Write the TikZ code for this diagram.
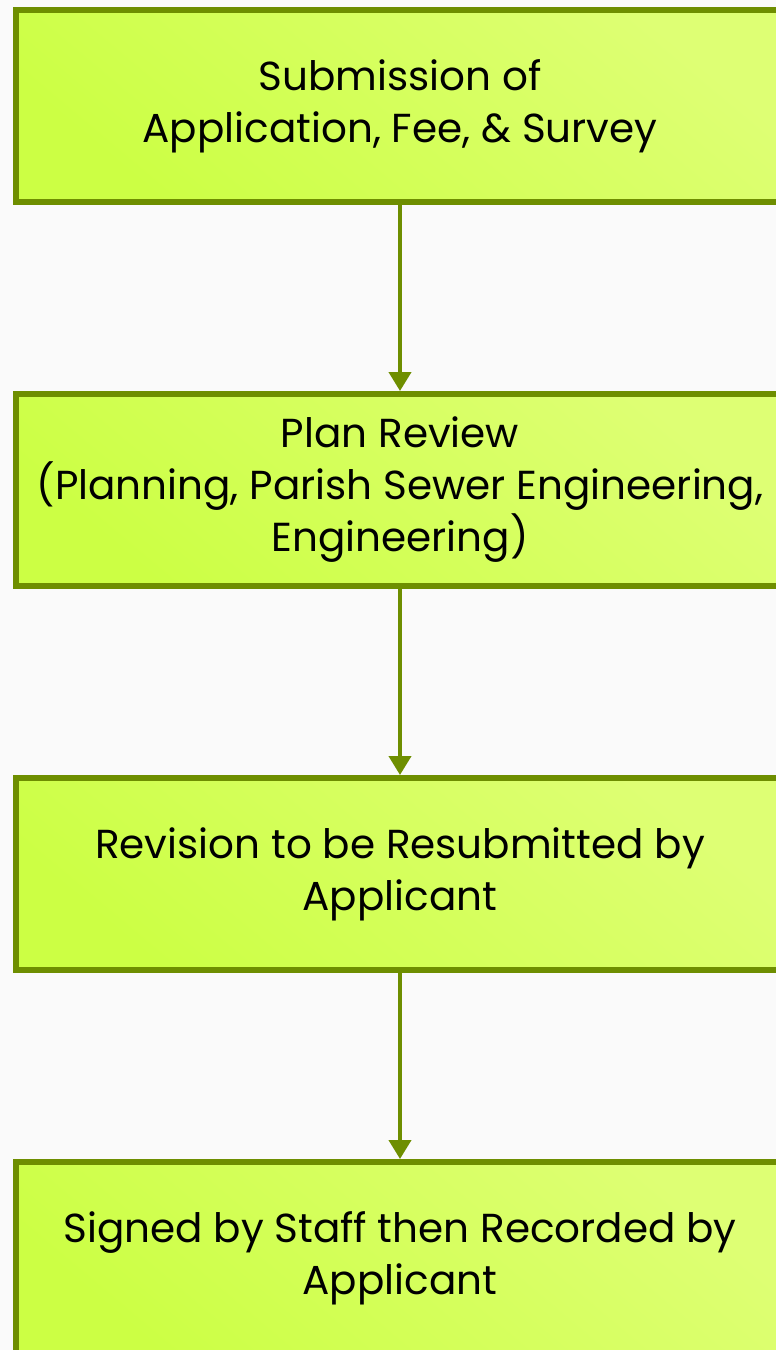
\documentclass[tikz,border=0pt]{standalone}
\usepackage{fontspec}
\setmainfont{Poppins}
\usetikzlibrary{arrows.meta}
\usetikzlibrary{positioning}

\definecolor{pagegray}{HTML}{FAFAFA}
\definecolor{stepline}{HTML}{6E8E00}
\definecolor{limedark}{HTML}{CCFF44}
\definecolor{limelight}{HTML}{DEFF74}

\begin{document}
\begin{tikzpicture}[x=1pt, y=1pt,
    stepbox/.style={rectangle, draw=stepline, line width=6pt,
        top color=limelight, bottom color=limedark, shading angle=-40,
        minimum width=768pt, minimum height=192pt, align=center,
        font=\fontsize{40.5}{52}\selectfont},
    flow/.style={stepline, line width=4pt, -{Triangle[width=22pt, length=19pt]}},
    node distance=186pt]

    \fill [pagegray] (0,0) rectangle (776,-1350);
    \useasboundingbox (0,0) rectangle (776,-1350);
    \clip (0,0) rectangle (776,-1350);

    \node [stepbox] (submit) at (400,-106) {Submission of\\Application, Fee, \& Survey};
    \node [stepbox, below=of submit] (review) {Plan Review\\(Planning, Parish Sewer Engineering,\\Engineering)};
    \node [stepbox, below=of review] (revise) {Revision to be Resubmitted by\\Applicant};
    \node [stepbox, below=of revise] (record) {Signed by Staff then Recorded by\\Applicant};

    \draw [flow] (submit) -- (review);
    \draw [flow] (review) -- (revise);
    \draw [flow] (revise) -- (record);

\end{tikzpicture}
\end{document}
